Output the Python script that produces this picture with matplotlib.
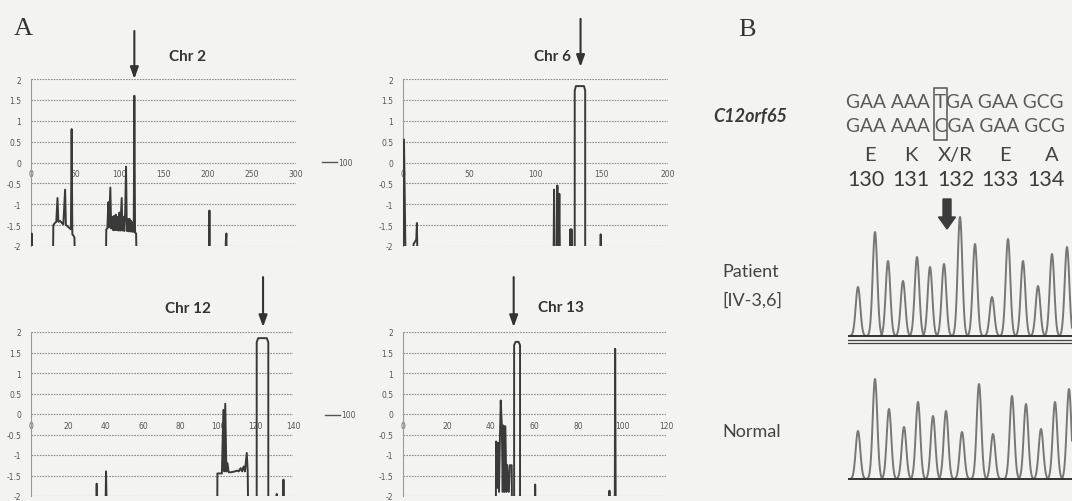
import numpy as np
import matplotlib
matplotlib.use("Agg")
import matplotlib.pyplot as plt
from matplotlib.lines import Line2D
from matplotlib.patches import Rectangle, FancyArrow

plt.rcParams['axes.unicode_minus'] = False

# ---------------- data ----------------
chr2_pos = [0, 0.7, 1.4,
            24.5, 25.3, 27, 28.6, 30, 31, 33, 35, 36.6, 38.6, 39.5, 41, 42.5, 44, 45.2, 46, 46.8, 48, 49.2, 50,
            84.6, 85.2, 86.5, 87.5, 88.3, 89.8, 90.8, 92, 93, 94, 95, 96, 97, 98, 99, 100, 101, 102.7, 103.5,
            104.5, 105.5, 106.6, 107.6, 108.5, 109.5, 110.5, 111.5, 112.5, 113.5, 114.5, 115.5, 116.3, 117,
            117.8, 119, 120,
            201.2, 202, 202.8,
            219.8, 220.5, 221.2, 222, 300]
chr2_val = [-3, -1.7, -3,
            -3, -1.5, -1.45, -1.42, -0.85, -1.42, -1.4, -1.45, -1.48, -0.65, -1.5, -1.52, -1.55, -1.58, -1.6, 0.8, -1.72, -1.75, -1.8, -3,
            -3, -1.6, -1.58, -0.95, -1.55, -0.6, -1.58, -1.3, -1.62, -1.28, -1.62, -1.25, -1.62, -1.3, -1.63, -1.2, -1.63, -0.85, -1.63,
            -1.3, -1.64, -1.2, -0.1, -1.64, -1.35, -1.65, -1.35, -1.65, -1.4, -1.66, -1.45, -1.66, 1.6,
            -1.68, -1.7, -3,
            -3, -1.15, -3,
            -3, -1.9, -1.7, -3, -3]

chr6_pos = [0, 0.75, 2.2,
            7.5, 8, 9, 10, 10.5, 11.2,
            113.5, 114, 114.8, 116, 116.5, 117.2, 118, 118.6,
            125.8, 126.2, 126.8, 127.2, 127.6,
            129.6, 129.6, 130.5, 136.6, 137.5, 137.5,
            148.6, 149.2, 149.8, 200]
chr6_val = [-3, 0.55, -3,
            -3, -1.95, -1.9, -1.85, -1.45, -3,
            -3, -0.65, -3, -3, -0.55, -3, -0.75, -3,
            -3, -1.6, -3, -1.6, -3,
            -3, 1.72, 1.83, 1.83, 1.72, -3,
            -3, -1.72, -3, -3]

chr12_pos = [0, 34.7, 35.1, 35.6, 39.6, 40.1, 40.7,
             99.5, 99.6, 101, 102, 102.8, 103.3, 103.8, 104.4, 105, 105.6, 107, 109, 110, 111, 112, 112.8,
             113.6, 114.3, 115.3, 115.8, 116.2,
             120.6, 120.6, 121.4, 126, 126.8, 126.8,
             131, 131.3, 131.8, 134.6, 134.9, 135.3, 140]
chr12_val = [-3, -3, -1.7, -3, -3, -1.4, -3,
             -3, -1.45, -1.45, -1.45, 0.1, -1.4, 0.25, -1.4, -1.2, -1.42, -1.42, -1.4, -1.38, -1.4, -1.32, -1.4,
             -1.28, -1.4, -0.95, -1.4, -3,
             -3, 1.75, 1.85, 1.85, 1.75, -3,
             -3, -1.95, -3, -3, -1.6, -3, -3]

chr13_pos = [0, 42.3, 42.5, 43, 43.3, 43.8, 44.2, 44.6, 45.1, 45.5, 45.8, 46.3, 46.7, 47.2, 47.5, 48.3, 48.7,
             49.6, 49.8,
             50.7, 50.7, 51.4, 52.7, 53.4, 53.4,
             60, 60.3, 60.7, 94, 94.2, 94.5, 96.6, 96.8, 97.1, 120]
chr13_val = [-3, -3, -0.67, -1.8, -0.7, -1.9, -0.65, 0.33, -0.3, -1.9, -0.28, -1.9, -0.3, -1.9, -1.24, -1.9, -1.25,
             -1.25, -3,
             -3, 1.68, 1.76, 1.76, 1.68, -3,
             -3, -1.72, -3, -3, -1.87, -3, -3, 1.59, -3, -3]

chrom_titles = ["Chr 2", "Chr 6", "Chr 12", "Chr 13"]
legend_label = "100"
arrow_x = [117, 134, 124, 50.5]

codons_patient = ["GAA", "AAA", "TGA", "GAA", "GCG"]
codons_normal = ["GAA", "AAA", "CGA", "GAA", "GCG"]
amino_acids = ["E", "K", "X/R", "E", "A"]
residues = [130, 131, 132, 133, 134]

patient_peak_pos = [10, 27, 40, 55, 69, 82, 96, 112, 127, 144, 160, 175, 190, 204, 219]
patient_peak_h = [49, 104, 75, 55, 79, 69, 72, 119, 92, 39, 97, 75, 50, 82, 89]
normal_peak_pos = [10, 27, 41, 56, 70, 85, 98, 114, 131, 145, 164, 178, 193, 207, 221]
normal_peak_h = [48, 100, 70, 52, 77, 63, 68, 47, 95, 45, 83, 75, 50, 77, 90]

# ---------------- figure ----------------
W, H = 1072, 502
BG = '#f3f3f1'
LINE = '#3a3a3a'
GRID = '#8e8e8e'
TXT = '#444444'
SANS = 'Lato'
fig = plt.figure(figsize=(W / 100, H / 100), dpi=100, facecolor=BG)
renderer = fig.canvas.get_renderer()


def px_axes(x0, y0, x1, y1):
    return fig.add_axes([x0 / W, 1 - y1 / H, (x1 - x0) / W, (y1 - y0) / H])


def chrom(ax, pos, val, xmax, xstep, title, title_xy, ax_x, arrow_y):
    ax.set_facecolor('none')
    ax.plot(pos, val, color=LINE, lw=1.4, solid_joinstyle='round', zorder=3)
    ax.set_xlim(0, xmax)
    ax.set_ylim(-2, 2)
    ax.set_yticks(np.arange(-2, 2.01, 0.5))
    ax.yaxis.set_major_formatter(matplotlib.ticker.FuncFormatter(lambda v, p: f'{v:g}'))
    ax.yaxis.grid(True, color=GRID, lw=0.8, ls=(0, (1.5, 1.0)))
    ax.set_xticks(range(0, xmax + 1, xstep))
    ax.spines['bottom'].set_position(('data', 0))
    ax.spines['bottom'].set_visible(False)
    for s in ('top', 'right'):
        ax.spines[s].set_visible(False)
    ax.spines['left'].set_color('#9a9a9a')
    ax.spines['left'].set_linewidth(0.8)
    ax.tick_params(axis='x', length=0, pad=5, labelsize=5.5, labelcolor='#555')
    ax.tick_params(axis='y', length=0, pad=7, labelsize=5.5, labelcolor='#555')
    ax.text(title_xy[0], title_xy[1], title, ha='center', va='center', fontsize=11,
            fontweight='bold', family=SANS, color='#333', clip_on=False)
    ax.annotate('', xy=(ax_x, arrow_y[0]), xytext=(ax_x, arrow_y[1]), annotation_clip=False,
                arrowprops=dict(arrowstyle='-|>,head_width=0.25,head_length=0.7', color='#333',
                                lw=1.5, mutation_scale=10, shrinkA=0, shrinkB=0))


ax2 = px_axes(31, 80, 296, 247)
chrom(ax2, chr2_pos, chr2_val, 300, 50, chrom_titles[0], (177, 2.55), arrow_x[0], (2.0, 3.15))
ax6 = px_axes(403, 80, 668, 247)
chrom(ax6, chr6_pos, chr6_val, 200, 50, chrom_titles[1], (113, 2.55), arrow_x[1], (2.29, 3.44))
ax12 = px_axes(31, 333, 293, 497)
chrom(ax12, chr12_pos, chr12_val, 140, 20, chrom_titles[2], (84, 2.58), arrow_x[2], (2.12, 3.34))
ax13 = px_axes(403, 333, 666, 497)
chrom(ax13, chr13_pos, chr13_val, 120, 20, chrom_titles[3], (72, 2.6), arrow_x[3], (2.12, 3.34))

for ax, bx, by in ((ax2, 1.098, 0.5), (ax12, 1.122, 0.494)):
    h = Line2D([], [], color='#555', lw=1.0)
    ax.legend([h], [legend_label], loc='center left', bbox_to_anchor=(bx, by), frameon=False,
              fontsize=5.5, handlelength=2.0, handletextpad=0.1, borderpad=0, borderaxespad=0,
              labelcolor='#555')

# ---------------- chromatograms ----------------
def chromatogram(ax, pos, hts, double_line):
    ax.set_facecolor('none')
    x = np.linspace(0, 224, 1500)
    sig = 2.3
    for p, hh in zip(pos, hts):
        m = np.abs(x - p) < 9
        ax.plot(x[m], hh * np.exp(-(x[m] - p) ** 2 / (2 * sig ** 2)), color='#777', lw=1.4)
    ax.axhline(0, color='#333', lw=1.4)
    if double_line:
        ax.axhline(-4, color='#444', lw=0.9)
        ax.axhline(-7, color='#444', lw=0.9)
    ax.set_xlim(0, 224)
    ax.set_ylim(-10, 130)
    ax.axis('off')


axp = px_axes(848, 207, 1072, 347)
chromatogram(axp, patient_peak_pos, patient_peak_h, True)
axn = px_axes(848, 350, 1072, 490)
chromatogram(axn, normal_peak_pos, normal_peak_h, False)

# ---------------- overlay for panel labels and sequence text ----------------
ov = fig.add_axes([0, 0, 1, 1])
ov.set_xlim(0, W)
ov.set_ylim(H, 0)
ov.axis('off')
ov.patch.set_visible(False)

ov.text(23, 29, 'A', fontsize=19, family='Liberation Serif', color='#333', ha='center', va='center')
ov.text(747, 30, 'B', fontsize=19, family='Liberation Serif', color='#333', ha='center', va='center')

ov.text(713, 116, 'C12orf65', fontsize=13, family=SANS, style='italic', fontweight='bold',
        color='#3a3a3a', ha='left', va='center')

SEQ_X0 = 846
SEQ_WIDTH = 220.0
seq_str1 = ' '.join(codons_patient)
seq_str2 = ' '.join(codons_normal)
t1 = ov.text(SEQ_X0, 102, seq_str1, fontsize=14, family=SANS, color='#5a5a5a', ha='left', va='center')
t2 = ov.text(SEQ_X0, 126, seq_str2, fontsize=14, family=SANS, color='#5a5a5a', ha='left', va='center')
w0 = t1.get_window_extent(renderer).width
fs = 14 * SEQ_WIDTH / w0
t1.set_fontsize(fs)
t2.set_fontsize(fs)

# locate the mutated base to draw the box around it
prefix = ov.text(SEQ_X0, 102, ' '.join(codons_patient[:2]) + ' ', fontsize=fs, family=SANS,
                 ha='left', va='center', alpha=0)
prefix_t = ov.text(SEQ_X0, 102, ' '.join(codons_patient[:2]) + ' T', fontsize=fs, family=SANS,
                   ha='left', va='center', alpha=0)
bb1 = prefix.get_window_extent(renderer)
bb2 = prefix_t.get_window_extent(renderer)
x_left = SEQ_X0 + bb1.width - 1
x_right = SEQ_X0 + bb2.width + 1
prefix.remove()
prefix_t.remove()
ov.add_patch(Rectangle((x_left, 89), x_right - x_left, 52, fill=False, ec='#555', lw=1.1))

aa_x = [870, 911, 955, 1005, 1052]
num_x = [866, 911, 956, 1000, 1046]
for ax_, a in zip(aa_x, amino_acids):
    ov.text(ax_, 156, a, fontsize=14.5, family=SANS, color='#444', ha='center', va='center')
for nx, r in zip(num_x, residues):
    ov.text(nx, 180, str(r), fontsize=15.5, family=SANS, color='#3a3a3a', ha='center', va='center')

ov.add_patch(FancyArrow(947, 200, 0, 30, width=8, head_width=17, head_length=12,
                        length_includes_head=True, color='#3c3c3c'))

ov.text(722, 272, 'Patient', fontsize=13, family=SANS, color=TXT, ha='left', va='center')
ov.text(722, 300, '[IV-3,6]', fontsize=13, family=SANS, color=TXT, ha='left', va='center')
ov.text(722, 432, 'Normal', fontsize=13, family=SANS, color=TXT, ha='left', va='center')

fig.savefig('out.png', dpi=100, facecolor=BG)
